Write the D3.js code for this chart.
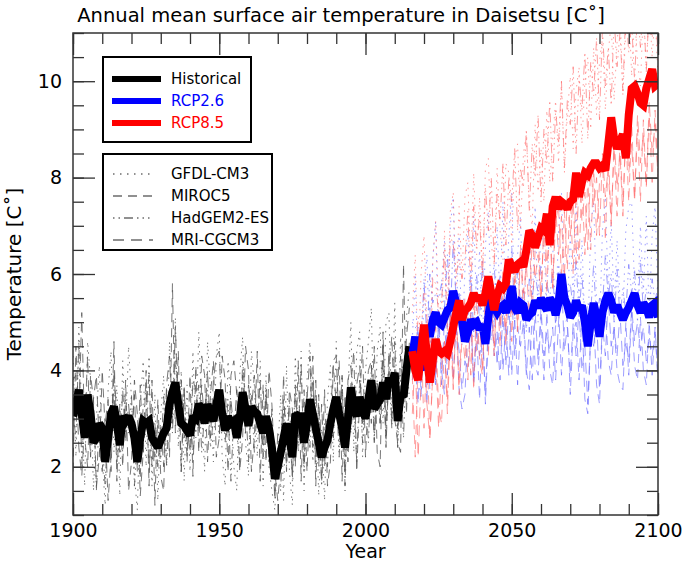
<!DOCTYPE html>
<html><head><meta charset="utf-8">
<script src="https://cdn.jsdelivr.net/npm/d3@7"></script>
<style>body{margin:0;background:#fff} svg{display:block} text{font-family:"DejaVu Sans",sans-serif}</style>
</head><body><svg id="chart" width="685" height="562"></svg>
<script>
// ---------------- DATA ----------------
const histStart = 1900, futStart = 2016;
const scenarios = ["Historical", "RCP2.6", "RCP8.5"];
const models = ["GFDL-CM3", "MIROC5", "HadGEM2-ES", "MRI-CGCM3"];
const xMajorTicks = [1900, 1950, 2000, 2050, 2100];
const yMajorTicks = [2, 4, 6, 8, 10];

// ensemble mean (thick lines)
const histMean = [
 3.05,3.3,3.6,3.1,2.6,3.5,3.1,2.5,2.6,2.9,
 2.8,2.1,2.6,3.1,3.25,2.9,2.45,3.05,2.95,3.05,
 2.9,2.6,2.1,2.6,2.95,2.9,2.95,2.6,2.5,2.4,
 2.55,2.7,2.8,3.3,3.55,3.75,3.3,2.9,2.85,2.75,
 2.65,3.05,3.0,3.3,3.2,2.9,3.3,3.1,2.95,3.3,
 3.6,3.1,2.75,3.05,2.9,2.95,2.6,3.0,3.55,3.2,
 2.85,3.25,3.15,3.1,2.9,2.7,3.05,2.8,2.4,1.75,
 2.0,2.3,2.6,2.9,2.6,2.2,3.1,3.05,3.05,2.5,
 2.9,3.4,3.1,2.8,2.5,2.2,2.4,2.55,2.9,3.2,
 3.45,3.1,2.8,2.4,3.0,3.65,3.2,3.05,3.45,3.2,
 3.0,3.4,3.8,3.2,3.3,3.4,3.75,3.4,3.85,3.7,
 3.95,2.95,3.5,3.45,4.0,4.5];
const rcp26Mean = [
 4.3,4.7,4.1,4.0,4.6,4.9,4.7,5.05,5.2,5.0,
 4.95,5.1,5.25,5.3,5.65,5.4,5.3,5.0,4.6,4.8,
 5.05,4.95,5.0,4.85,4.95,4.55,5.1,5.6,5.3,5.2,
 5.3,5.35,5.2,5.4,5.75,5.3,5.2,5.4,5.35,5.05,
 5.15,5.2,5.45,5.3,5.5,5.35,5.25,5.5,5.4,5.15,
 5.4,6.0,5.5,5.35,5.1,5.2,5.45,5.25,5.35,5.0,
 4.5,5.0,5.4,5.1,4.7,5.2,5.45,5.6,5.45,5.2,
 5.35,5.2,5.05,5.2,5.3,5.45,5.6,5.35,5.2,5.4,
 5.3,5.1,5.35,5.4,5.1];
const rcp85Mean = [
 4.4,4.0,3.8,4.4,4.95,4.3,3.75,4.2,4.65,4.4,
 4.35,4.4,4.35,4.6,4.9,5.2,5.45,5.05,5.25,5.3,
 5.4,5.6,5.45,5.55,5.35,5.6,5.95,5.6,5.25,5.55,
 5.75,5.7,5.8,6.3,6.15,6.05,6.2,6.25,6.15,6.5,
 6.9,6.8,6.55,6.75,6.95,6.9,7.25,6.6,7.4,7.6,
 7.35,7.5,7.45,7.35,7.5,7.55,8.1,7.6,7.9,8.1,
 8.05,8.2,8.3,8.3,8.2,8.25,8.15,8.7,9.25,8.8,
 8.6,8.75,8.9,8.4,9.3,9.85,9.9,9.75,9.55,9.5,
 9.85,10.05,10.25,9.9,9.95];

// individual models, historical 1900-2015
const gfdlHist = [
 4.3,2.2,4.9,3.1,1.6,4.6,3.8,1.5,3.0,4.1,
 2.2,1.2,3.6,4.4,2.3,3.7,1.4,4.2,2.7,4.5,
 3.4,1.8,1.1,3.3,4.2,2.0,4.3,1.6,3.5,1.3,
 3.1,3.9,2.0,4.6,3.0,5.1,2.4,4.0,1.7,3.7,
 1.9,4.4,2.6,4.8,3.2,1.9,4.6,3.6,2.1,4.3,
 4.8,2.2,1.6,4.2,3.3,2.0,1.5,3.9,4.7,2.5,
 1.8,4.4,3.7,2.2,4.2,1.6,3.9,2.0,1.5,1.1,
 2.3,3.5,1.3,4.1,1.9,1.2,4.3,2.5,4.4,1.5,
 3.8,4.6,2.1,3.5,1.4,2.8,1.3,3.4,4.1,2.1,
 4.6,2.4,3.9,1.5,3.6,5.0,2.3,4.4,4.8,2.2,
 4.0,4.6,5.3,2.5,4.4,4.9,2.9,5.0,5.2,3.1,
 5.4,2.4,4.7,3.6,5.1,5.7];
const mirocHist = [
 1.9,4.5,3.0,5.2,2.6,2.0,3.9,3.4,1.6,2.2,
 4.0,2.8,1.3,2.2,4.6,1.7,3.3,2.0,3.8,1.5,
 2.1,3.8,3.1,1.4,2.3,4.0,1.6,3.8,1.2,3.4,
 1.8,1.5,3.6,2.2,5.8,2.7,4.4,1.9,3.7,2.1,
 3.9,1.8,4.1,2.3,4.3,3.9,2.1,3.5,4.2,2.2,
 2.6,4.3,3.8,1.9,3.9,4.2,3.5,1.9,2.6,4.5,
 4.0,1.9,2.6,4.4,1.7,3.7,2.1,4.0,3.3,1.9,
 1.3,2.0,3.9,1.9,3.6,3.2,2.0,4.2,1.7,3.6,
 1.9,3.3,4.3,1.6,3.5,1.7,3.6,1.6,2.1,4.1,
 3.3,4.2,1.7,3.5,2.1,3.7,4.4,1.9,3.4,4.5,
 2.2,3.6,2.9,4.5,2.3,2.0,4.8,2.4,4.0,4.7,
 3.0,2.5,2.3,6.2,3.1,4.6];
const hadgemHist = [
 3.1,2.6,4.6,2.0,3.5,2.9,2.3,3.3,1.5,3.2,
 2.5,1.6,3.1,2.8,3.6,2.1,3.0,2.3,3.4,2.7,
 3.5,1.6,2.6,1.8,3.3,3.6,1.9,3.1,2.2,2.9,
 2.1,3.5,2.0,3.4,2.7,4.2,3.5,1.9,3.6,2.3,
 3.1,2.2,3.0,3.7,2.3,3.1,3.6,2.4,3.0,3.5,
 2.6,3.5,2.5,3.4,1.7,3.1,2.7,2.1,4.2,3.4,
 2.1,3.5,2.3,3.3,2.9,2.3,3.7,2.1,3.2,1.5,
 2.3,1.5,3.2,2.0,3.4,1.7,3.5,2.3,3.1,1.9,
 3.5,2.4,3.9,2.0,3.3,1.6,2.9,2.0,3.2,2.6,
 3.6,2.2,3.7,2.0,3.4,2.7,3.5,2.1,3.8,2.5,
 3.5,2.5,4.1,2.6,3.8,2.9,4.2,2.5,4.0,2.8,
 4.1,2.4,3.9,2.6,4.3,3.4];
const mriHist = [
 3.8,3.9,2.4,1.8,2.9,4.3,2.2,3.4,3.9,2.4,
 1.9,2.9,3.4,1.9,4.0,3.0,2.3,3.6,2.5,3.3,
 2.6,3.5,1.9,3.7,2.3,3.2,3.9,2.0,2.9,2.0,
 2.9,2.0,3.7,4.3,2.9,4.9,3.1,3.8,2.6,2.9,
 2.3,3.8,3.6,2.7,3.7,2.9,4.0,2.6,3.8,4.3,
 4.4,2.7,3.1,2.7,3.4,2.7,3.6,2.8,3.9,2.7,
 3.7,3.2,3.9,2.8,3.8,2.2,3.5,2.4,2.8,1.3,
 2.7,2.5,3.4,2.6,2.8,1.8,3.7,2.6,4.1,2.1,
 3.4,4.3,2.4,3.8,2.0,3.3,2.0,3.1,2.9,4.2,
 4.3,2.8,3.9,1.6,3.8,4.1,3.0,3.7,4.1,2.9,
 3.3,4.0,4.2,2.5,3.8,2.9,4.6,2.8,4.4,2.9,
 4.6,2.8,4.3,3.3,4.7,5.3];

// individual models, RCP2.6 2016-2100
const gfdl26 = [
 4.6,6.0,3.9,3.4,5.6,6.4,4.2,6.3,7.1,4.4,
 5.8,6.7,4.7,7.0,7.6,5.1,6.8,4.5,6.1,6.9,
 4.8,7.2,5.2,6.5,4.6,6.6,7.3,5.3,4.9,7.0,
 5.4,7.5,5.1,6.8,7.7,5.2,6.4,7.2,4.9,6.3,
 6.9,5.3,7.4,5.0,7.1,6.5,5.4,7.3,6.6,5.0,
 6.9,7.7,5.6,5.2,6.8,5.5,7.4,5.3,6.7,4.9,
 4.6,7.0,7.5,5.4,4.8,6.9,7.6,5.6,7.1,5.3,
 6.7,5.5,5.1,6.9,7.4,7.5,5.7,5.3,7.0,5.6,
 7.2,5.1,6.8,7.4,5.5];
const miroc26 = [
 3.8,4.3,4.9,3.5,4.9,3.3,5.3,4.0,3.7,5.2,
 4.0,3.5,5.1,5.4,3.8,5.0,3.6,3.2,3.5,4.9,
 5.2,3.7,4.8,3.4,5.0,3.3,4.7,5.5,4.3,4.8,
 3.8,5.3,4.1,5.4,3.9,5.1,3.7,5.0,5.2,4.0,
 3.6,5.3,4.1,3.9,5.1,3.8,5.2,4.0,3.7,5.0,
 5.3,3.9,4.9,5.1,3.5,4.8,5.0,3.8,5.2,3.4,
 3.1,4.7,5.1,3.7,3.3,4.9,5.3,4.2,3.9,4.9,
 4.0,3.7,3.6,5.0,3.9,5.2,4.1,3.8,5.1,4.0,
 3.7,5.0,3.9,4.9,3.8];
const hadgem26 = [
 5.0,4.9,4.8,4.5,5.9,4.6,6.0,5.4,5.6,5.5,
 5.8,5.3,6.4,5.1,6.7,5.4,5.6,5.2,5.3,4.9,
 6.1,4.7,6.0,5.0,6.3,4.6,5.9,5.7,6.2,5.0,
 6.0,4.9,6.3,5.1,6.6,5.0,6.1,5.4,5.7,4.8,
 5.9,5.5,6.0,5.6,6.2,5.2,5.8,5.5,6.1,4.9,
 6.2,5.9,6.0,5.4,5.8,5.3,6.3,5.1,6.0,4.9,
 5.4,5.2,6.2,5.0,5.5,5.3,6.4,5.5,6.0,5.0,
 6.1,5.1,5.7,5.2,6.2,5.6,6.1,5.0,6.3,5.2,
 5.7,5.3,5.9,5.4,5.8];
const mri26 = [
 4.3,4.1,3.3,4.7,4.4,5.0,3.6,4.8,3.8,5.0,
 3.7,5.1,3.9,5.3,4.7,4.9,4.4,3.6,4.2,4.0,
 5.0,3.8,4.9,4.3,4.7,3.5,5.0,4.6,5.3,4.1,
 5.2,4.0,5.0,3.9,5.6,4.3,4.9,4.5,5.0,3.9,
 4.9,3.8,5.2,4.2,5.3,4.3,4.8,4.4,4.9,3.8,
 5.0,5.9,4.4,4.9,3.9,5.0,4.3,5.3,4.0,4.5,
 3.3,4.8,4.5,5.1,3.6,5.0,4.3,5.5,4.5,4.9,
 4.3,5.2,4.1,4.6,4.2,5.3,4.6,5.0,4.4,4.9,
 4.2,4.7,4.3,4.8,3.8];

// individual models, RCP8.5 2016-2100
const gfdl85 = [
 5.2,6.4,4.1,6.0,6.8,4.9,4.3,6.3,7.1,5.2,
 4.9,6.9,5.3,7.3,7.7,5.5,7.4,5.9,7.6,7.9,
 6.1,8.1,6.4,7.6,6.0,8.2,8.4,6.6,6.2,8.2,
 6.9,6.3,8.3,8.1,6.6,8.4,8.7,6.9,8.5,8.9,
 7.4,7.0,9.1,7.7,8.6,7.5,9.4,7.9,8.8,9.6,
 8.3,9.9,8.1,9.3,10.1,8.6,9.8,10.3,8.7,10.0,
 10.5,9.0,10.7,9.3,10.4,10.9,9.4,10.6,11.2,9.6,
 10.8,11.5,9.7,11.1,11.6,10.1,11.4,10.4,9.9,11.5,
 10.2,11.6,10.5,11.4,10.1];
const miroc85 = [
 3.9,2.2,4.2,4.8,2.8,4.5,2.6,3.9,4.9,3.2,
 2.9,4.6,3.4,5.2,3.7,5.4,3.5,4.7,5.5,3.8,
 5.2,3.6,5.6,4.2,3.9,5.7,4.3,5.9,4.4,5.8,
 4.5,6.1,4.8,6.3,4.6,6.2,4.9,6.6,5.1,6.4,
 6.8,5.2,6.5,7.0,5.4,7.1,5.6,7.3,5.7,7.1,
 7.4,5.9,7.3,6.1,7.7,6.0,7.8,6.3,7.9,6.4,
 8.0,6.5,8.2,6.8,7.9,8.4,6.7,8.5,7.1,8.6,
 7.2,8.7,7.4,8.9,7.5,9.1,7.6,9.0,7.5,9.2,
 7.8,9.3,7.9,9.4,8.1];
const hadgem85 = [
 4.6,4.3,5.1,4.8,5.6,5.1,3.9,5.9,5.8,5.2,
 5.4,6.5,4.8,6.8,6.6,6.0,6.3,5.9,6.3,7.3,
 5.6,7.4,6.6,7.2,5.9,7.8,6.9,8.0,6.2,7.7,
 7.1,8.3,6.6,8.0,7.5,8.6,6.9,8.2,7.8,9.0,
 7.3,8.7,8.0,9.3,7.5,9.0,8.3,9.6,7.9,9.4,
 8.7,10.0,8.2,9.6,9.1,10.3,8.5,10.1,9.4,10.6,
 8.8,10.4,9.7,10.9,9.2,11.1,9.9,10.7,9.5,11.3,
 10.3,11.0,9.8,11.5,10.6,11.2,10.0,11.5,10.7,11.6,
 10.2,11.6,10.9,11.4,10.6];
const mri85 = [
 3.1,4.3,2.2,3.8,4.5,3.3,2.6,4.0,4.3,2.8,
 4.1,4.6,3.1,4.8,3.6,5.2,3.7,4.9,4.2,5.1,
 3.9,5.5,4.4,5.0,4.0,5.7,4.8,5.4,4.3,5.8,
 4.9,5.6,4.5,6.3,5.2,5.9,4.8,6.5,5.6,6.2,
 5.1,6.8,5.9,6.4,5.4,7.1,6.2,6.9,5.7,7.4,
 6.4,7.2,5.9,7.7,6.8,7.5,6.2,8.0,7.1,7.7,
 6.5,8.3,7.4,8.0,6.8,8.5,7.6,8.2,7.0,8.8,
 7.8,8.5,7.2,9.1,8.1,8.7,7.5,9.3,8.3,8.9,
 7.8,9.6,8.5,9.1,8.0];

// ---------------- STYLE ----------------
const L = 73, R = 658, T = 33, B = 515;
const scenColor = { "Historical": "#000000", "RCP2.6": "#0000ff", "RCP8.5": "#ff0000" };
const thinColor = { "Historical": "#555555", "RCP2.6": "#6a6aff", "RCP8.5": "#ff6a6a" };
const thinOpacity = { "Historical": 0.8, "RCP2.6": 0.65, "RCP8.5": 0.65 };
const modelDash = {
  "GFDL-CM3": "1.5,5.5",
  "MIROC5": "9,6",
  "HadGEM2-ES": "1.5,4,1.5,4,9,4,1.5,4",
  "MRI-CGCM3": "11,7"
};

const svg = d3.select("#chart");
const x = d3.scaleLinear().domain([1900, 2100]).range([L, R]);
const y = d3.scaleLinear().domain([1, 11]).range([B, T]);

svg.append("defs").append("clipPath").attr("id", "plotclip")
  .append("rect").attr("x", L).attr("y", T).attr("width", R - L).attr("height", B - T);

const line = (start) => d3.line().x((d, i) => x(start + i)).y(d => y(d));

const plot = svg.append("g").attr("clip-path", "url(#plotclip)");

const thinSeries = [
  ["Historical", histStart, [gfdlHist, mirocHist, hadgemHist, mriHist]],
  ["RCP2.6", futStart, [gfdl26, miroc26, hadgem26, mri26]],
  ["RCP8.5", futStart, [gfdl85, miroc85, hadgem85, mri85]]
];
thinSeries.forEach(([sc, start, arrs]) => {
  arrs.forEach((vals, k) => {
    plot.append("path").datum(vals)
      .attr("d", line(start))
      .attr("fill", "none")
      .attr("stroke", thinColor[sc])
      .attr("stroke-opacity", thinOpacity[sc])
      .attr("stroke-width", 1)
      .attr("stroke-dasharray", modelDash[models[k]]);
  });
});

const thick = [
  ["Historical", histStart, histMean],
  ["RCP2.6", futStart, rcp26Mean],
  ["RCP8.5", futStart, rcp85Mean]
];
thick.forEach(([sc, start, vals]) => {
  plot.append("path").datum(vals)
    .attr("d", line(start))
    .attr("fill", "none")
    .attr("stroke", scenColor[sc])
    .attr("stroke-width", 8)
    .attr("stroke-linejoin", "miter")
    .attr("stroke-miterlimit", 2);
});

// ---------------- AXES ----------------
const fs = 19;
const axColor = "#333";
function styleAxis(g) {
  g.select(".domain").remove();
  g.selectAll(".tick line").attr("stroke", axColor).attr("stroke-width", 1.3);
  g.selectAll("text").attr("font-size", fs).attr("fill", "#000").attr("font-family", "DejaVu Sans");
}
const xMinor = d3.range(1900, 2101, 10);
const yMinor = d3.range(1, 11.01, 0.5);

svg.append("g").attr("transform", `translate(0,${B})`)
  .call(d3.axisBottom(x).tickValues(xMinor).tickSize(-11).tickFormat("")).call(styleAxis);
svg.append("g").attr("transform", `translate(0,${B})`)
  .call(d3.axisBottom(x).tickValues(xMajorTicks).tickSize(-22).tickPadding(9).tickFormat(d3.format("d"))).call(styleAxis);
svg.append("g").attr("transform", `translate(0,${T})`)
  .call(d3.axisTop(x).tickValues(xMinor).tickSize(-11).tickFormat("")).call(styleAxis);
svg.append("g").attr("transform", `translate(0,${T})`)
  .call(d3.axisTop(x).tickValues(xMajorTicks).tickSize(-22).tickFormat("")).call(styleAxis);

svg.append("g").attr("transform", `translate(${L},0)`)
  .call(d3.axisLeft(y).tickValues(yMinor).tickSize(-11).tickFormat("")).call(styleAxis);
svg.append("g").attr("transform", `translate(${L},0)`)
  .call(d3.axisLeft(y).tickValues(yMajorTicks).tickSize(-22).tickPadding(11).tickFormat(d3.format("d"))).call(styleAxis);
svg.append("g").attr("transform", `translate(${R},0)`)
  .call(d3.axisRight(y).tickValues(yMinor).tickSize(-11).tickFormat("")).call(styleAxis);
svg.append("g").attr("transform", `translate(${R},0)`)
  .call(d3.axisRight(y).tickValues(yMajorTicks).tickSize(-22).tickFormat("")).call(styleAxis);

svg.append("rect").attr("x", L).attr("y", T).attr("width", R - L).attr("height", B - T)
  .attr("fill", "none").attr("stroke", axColor).attr("stroke-width", 1.5);

// titles
svg.append("text").attr("x", 341).attr("y", 22).attr("text-anchor", "middle")
  .attr("font-size", 19.5).text("Annual mean surface air temperature in Daisetsu [C˚]");
svg.append("text").attr("x", (L + R) / 2).attr("y", 558).attr("text-anchor", "middle")
  .attr("font-size", 19).text("Year");
svg.append("text").attr("transform", `translate(21,${(T + B) / 2}) rotate(-90)`)
  .attr("text-anchor", "middle").attr("font-size", 20).text("Temperature [C˚]");

// ---------------- LEGENDS ----------------
const leg1 = svg.append("g");
leg1.append("rect").attr("x", 103).attr("y", 57).attr("width", 148).attr("height", 85)
  .attr("fill", "#fff").attr("stroke", "#000").attr("stroke-width", 2);
scenarios.forEach((sc, i) => {
  const yy = 79 + i * 22;
  leg1.append("line").attr("x1", 112).attr("x2", 161).attr("y1", yy).attr("y2", yy)
    .attr("stroke", scenColor[sc]).attr("stroke-width", 6);
  leg1.append("text").attr("x", 171).attr("y", yy).attr("dy", "0.35em")
    .attr("font-size", 15).attr("fill", scenColor[sc]).text(sc);
});

const leg2 = svg.append("g");
leg2.append("rect").attr("x", 103).attr("y", 154).attr("width", 169).attr("height", 96)
  .attr("fill", "#fff").attr("stroke", "#000").attr("stroke-width", 2);
models.forEach((m, i) => {
  const yy = 174 + i * 22;
  leg2.append("line").attr("x1", 113).attr("x2", 153).attr("y1", yy).attr("y2", yy)
    .attr("stroke", "#222").attr("stroke-width", 1.2).attr("stroke-dasharray", modelDash[m]);
  leg2.append("text").attr("x", 171).attr("y", yy).attr("dy", "0.35em")
    .attr("font-size", 15).attr("fill", "#000").text(m);
});
</script></body></html>
